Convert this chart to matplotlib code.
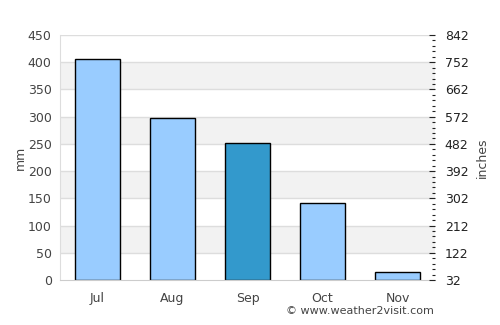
import numpy as np
import matplotlib
matplotlib.use("Agg")
import matplotlib.pyplot as plt
from matplotlib.ticker import MultipleLocator

# rainfall per month (mm)
months = ["Jul", "Aug", "Sep", "Oct", "Nov"]
rain_mm = [405, 297, 251, 141, 15]
highlight = "Sep"
right_labels = ["32", "122", "212", "302", "392", "482", "572", "662", "752", "842"]

plt.rcParams["font.family"] = "DejaVu Sans"

fig = plt.figure(figsize=(5, 3.25), dpi=100)
ax = fig.add_axes([0.12, 0.1385, 0.75, 0.754])

# alternating bands
for lo in range(50, 450, 100):
    ax.axhspan(lo, lo + 50, color="#f2f2f2", zorder=0, lw=0)
for y in range(50, 451, 50):
    ax.axhline(y, color="#dddddd", lw=1, zorder=1)

colors = ["#3399cc" if m == highlight else "#99ccff" for m in months]
x = np.arange(len(months))
ax.bar(x, rain_mm, width=0.6, color=colors, edgecolor="black", linewidth=1, zorder=2)

ax.set_xlim(-0.5, len(months) - 0.5)
ax.set_ylim(0, 450)
ax.set_yticks(range(0, 451, 50))
ax.set_xticks(x)
ax.set_xticklabels(months)
ax.tick_params(axis="both", length=0, labelsize=9, colors="#444444", pad=9)
ax.tick_params(axis="y", pad=6)
ax.set_ylabel("mm", fontsize=9, color="#444444", labelpad=1)

for s in ["top", "right"]:
    ax.spines[s].set_visible(False)
ax.spines["left"].set_color("#dddddd")
ax.spines["bottom"].set_color("#cccccc")

ax2 = ax.twinx()
ax2.set_ylim(0, 450)
ax2.set_yticks(range(0, 451, 50))
ax2.set_yticklabels(right_labels)
ax2.yaxis.set_minor_locator(MultipleLocator(10))
ax2.tick_params(axis="y", which="major", direction="in", length=4, width=0.8,
                color="#222222", labelsize=9, labelcolor="#222222", pad=7)
ax2.tick_params(axis="y", which="minor", direction="in", length=2.5, width=0.8, color="#222222")
ax2.set_ylabel("inches", fontsize=9, color="#444444", labelpad=5)
for s in ax2.spines.values():
    s.set_visible(False)

fig.text(0.572, 0.035, "© www.weather2visit.com", fontsize=8, color="#444444")

fig.savefig("out.png", dpi=100)
